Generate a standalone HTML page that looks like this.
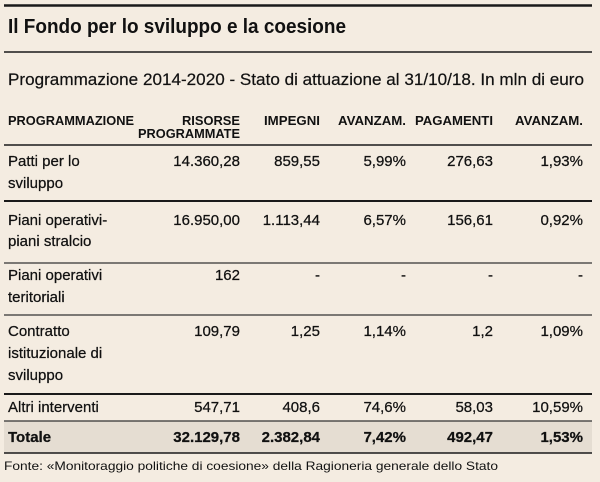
<!DOCTYPE html>
<html><head><meta charset="utf-8"><style>
html,body{margin:0;padding:0;background:#f4ece1;}
svg{display:block}
text{font-family:"Liberation Sans",sans-serif;fill:#111}
.b{font-size:15px;stroke:#111;stroke-width:0.25}
.h{font-size:12.5px;font-weight:bold}
</style></head><body>
<svg width="600" height="482" viewBox="0 0 600 482">
<rect width="600" height="482" fill="#f4ece1"/>
<rect x="4" y="421" width="588" height="32" fill="#e5ddd2"/>
<line x1="4" y1="5.5" x2="592" y2="5.5" stroke="#1a1a1a" stroke-width="2.5"/>
<text x="8" y="33" font-size="20" font-weight="bold" textLength="338" lengthAdjust="spacingAndGlyphs">Il Fondo per lo sviluppo e la coesione</text>
<line x1="4" y1="52" x2="592" y2="52" stroke="#1a1a1a" stroke-width="1.5"/>
<text x="8" y="85" font-size="17" stroke="#111" stroke-width="0.2" textLength="576" lengthAdjust="spacingAndGlyphs">Programmazione 2014-2020 - Stato di attuazione al 31/10/18. In mln di euro</text>
<text x="8" y="125" class="h" textLength="126" lengthAdjust="spacingAndGlyphs">PROGRAMMAZIONE</text>
<text x="240" y="125" class="h" text-anchor="end" textLength="58" lengthAdjust="spacingAndGlyphs">RISORSE</text>
<text x="240" y="138" class="h" text-anchor="end" textLength="102" lengthAdjust="spacingAndGlyphs">PROGRAMMATE</text>
<text x="320" y="125" class="h" text-anchor="end" textLength="56" lengthAdjust="spacingAndGlyphs">IMPEGNI</text>
<text x="406" y="125" class="h" text-anchor="end" textLength="68" lengthAdjust="spacingAndGlyphs">AVANZAM.</text>
<text x="493" y="125" class="h" text-anchor="end" textLength="78" lengthAdjust="spacingAndGlyphs">PAGAMENTI</text>
<text x="583" y="125" class="h" text-anchor="end" textLength="68" lengthAdjust="spacingAndGlyphs">AVANZAM.</text>
<line x1="4" y1="145" x2="592" y2="145" stroke="#1a1a1a" stroke-width="1.5"/>
<text x="8" y="166" class="b">Patti per lo</text><text x="8" y="188" class="b">sviluppo</text>
<text x="240" y="166" class="b" text-anchor="end">14.360,28</text>
<text x="320" y="166" class="b" text-anchor="end">859,55</text>
<text x="406" y="166" class="b" text-anchor="end">5,99%</text>
<text x="493" y="166" class="b" text-anchor="end">276,63</text>
<text x="583" y="166" class="b" text-anchor="end">1,93%</text>
<line x1="4" y1="201" x2="592" y2="201" stroke="#1a1a1a" stroke-width="2"/>
<text x="8" y="225" class="b">Piani operativi-</text><text x="8" y="246" class="b">piani stralcio</text>
<text x="240" y="225" class="b" text-anchor="end">16.950,00</text>
<text x="320" y="225" class="b" text-anchor="end">1.113,44</text>
<text x="406" y="225" class="b" text-anchor="end">6,57%</text>
<text x="493" y="225" class="b" text-anchor="end">156,61</text>
<text x="583" y="225" class="b" text-anchor="end">0,92%</text>
<line x1="4" y1="263" x2="592" y2="263" stroke="#333" stroke-width="1.3"/>
<text x="8" y="280" class="b">Piani operativi</text><text x="8" y="302" class="b">teritoriali</text>
<text x="240" y="280" class="b" text-anchor="end">162</text>
<text x="320" y="280" class="b" text-anchor="end">-</text>
<text x="406" y="280" class="b" text-anchor="end">-</text>
<text x="493" y="280" class="b" text-anchor="end">-</text>
<text x="583" y="280" class="b" text-anchor="end">-</text>
<line x1="4" y1="315" x2="592" y2="315" stroke="#333" stroke-width="1.3"/>
<text x="8" y="336" class="b">Contratto</text><text x="8" y="358" class="b">istituzionale di</text><text x="8" y="380" class="b">sviluppo</text>
<text x="240" y="336" class="b" text-anchor="end">109,79</text>
<text x="320" y="336" class="b" text-anchor="end">1,25</text>
<text x="406" y="336" class="b" text-anchor="end">1,14%</text>
<text x="493" y="336" class="b" text-anchor="end">1,2</text>
<text x="583" y="336" class="b" text-anchor="end">1,09%</text>
<line x1="4" y1="394" x2="592" y2="394" stroke="#1a1a1a" stroke-width="2"/>
<text x="8" y="412" class="b">Altri interventi</text>
<text x="240" y="412" class="b" text-anchor="end">547,71</text>
<text x="320" y="412" class="b" text-anchor="end">408,6</text>
<text x="406" y="412" class="b" text-anchor="end">74,6%</text>
<text x="493" y="412" class="b" text-anchor="end">58,03</text>
<text x="583" y="412" class="b" text-anchor="end">10,59%</text>
<line x1="4" y1="421" x2="592" y2="421" stroke="#333" stroke-width="1.3"/>
<g font-weight="bold">
<text x="8" y="442" class="b">Totale</text>
<text x="240" y="442" class="b" text-anchor="end">32.129,78</text>
<text x="320" y="442" class="b" text-anchor="end">2.382,84</text>
<text x="406" y="442" class="b" text-anchor="end">7,42%</text>
<text x="493" y="442" class="b" text-anchor="end">492,47</text>
<text x="583" y="442" class="b" text-anchor="end">1,53%</text>
</g>
<line x1="4" y1="453" x2="592" y2="453" stroke="#1a1a1a" stroke-width="1.5"/>
<text x="4" y="470" font-size="12" textLength="494" lengthAdjust="spacingAndGlyphs">Fonte: «Monitoraggio politiche di coesione» della Ragioneria generale dello Stato</text>
</svg>
</body></html>
